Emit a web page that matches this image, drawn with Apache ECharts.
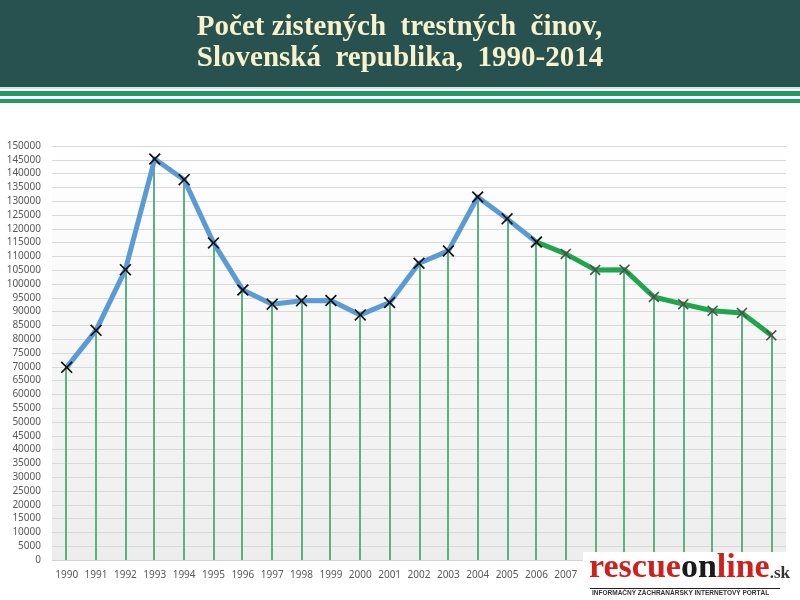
<!DOCTYPE html>
<html>
<head>
<meta charset="utf-8">
<script src="https://cdn.jsdelivr.net/npm/echarts@6/dist/echarts.min.js"></script>
<style>
  html, body { margin: 0; padding: 0; background: #fff; }
  #chart { width: 800px; height: 600px; }
</style>
</head>
<body>
<div id="chart"></div>
<script>
// roky a počty zistených trestných činov (odčítané z grafu)
var years = ['1990', '1991', '1992', '1993', '1994', '1995', '1996', '1997', '1998', '1999',
  '2000', '2001', '2002', '2003', '2004', '2005', '2006', '2007', '2008', '2009',
  '2010', '2011', '2012', '2013', '2014']
var counts = [69800, 83200, 105200, 145300, 137800, 114900, 97800, 92700, 93900, 94000,
  88800, 93300, 107500, 112000, 131500, 123600, 115200, 110900, 105100, 105200,
  95300, 92700, 90300, 89500, 81400]
var splitYear = '2006'
var titleLines = ['Počet zistených  trestných  činov,', 'Slovenská  republika,  1990-2014']

var splitIdx = years.indexOf(splitYear)
var blueData = counts.map(function (v, i) { return i <= splitIdx ? v : '-' })
var greenData = counts.map(function (v, i) { return i >= splitIdx ? v : '-' })

var crossPath = 'path://M0,1L1,0L5,4L9,0L10,1L6,5L10,9L9,10L5,6L1,10L0,9L4,5Z'

var myChart = echarts.init(document.getElementById('chart'))
var option = {
  backgroundColor: '#ffffff',
  animation: false,
  grid: {
    left: 52,
    right: 14,
    top: 146,
    bottom: 40,
    show: true,
    borderWidth: 0,
    backgroundColor: new echarts.graphic.LinearGradient(0, 0, 0, 1, [
      { offset: 0, color: '#ffffff' },
      { offset: 1, color: '#ededed' }
    ])
  },
  xAxis: {
    type: 'category',
    data: years,
    boundaryGap: true,
    axisTick: { show: false },
    axisLine: { lineStyle: { color: '#d4d4d4' } },
    axisLabel: { interval: 0, color: '#595959', fontSize: 10, fontFamily: 'Noto Sans', margin: 10 }
  },
  yAxis: {
    type: 'value',
    min: 0,
    max: 150000,
    interval: 5000,
    axisLine: { show: false },
    axisTick: { show: false },
    axisLabel: {
      color: '#595959', fontSize: 10, fontFamily: 'Noto Sans', margin: 11,
      formatter: function (v) { return String(v) }
    },
    splitLine: { lineStyle: { color: '#d9d9d9', width: 1 } }
  },
  series: [
    {
      // zvislé čiary od bodu k osi
      type: 'custom',
      data: counts.map(function (v, i) { return [i, v] }),
      renderItem: function (params, api) {
        var top = api.coord([api.value(0), api.value(1)])
        var bottom = api.coord([api.value(0), 0])
        var x = Math.round(top[0] / 2) * 2
        return {
          type: 'line',
          shape: { x1: x, y1: top[1], x2: x, y2: bottom[1] },
          style: { stroke: '#5ab283', lineWidth: 2 }
        }
      },
      z: 1
    },
    {
      type: 'line',
      data: greenData,
      lineStyle: { color: '#1fa64c', width: 5, join: 'round' },
      symbol: crossPath,
      symbolSize: 11,
      itemStyle: { color: '#4d4d4d' },
      z: 3
    },
    {
      type: 'line',
      data: blueData,
      lineStyle: { color: '#5b9bd5', width: 5, join: 'round' },
      symbol: crossPath,
      symbolSize: 12,
      itemStyle: { color: '#111111' },
      z: 4
    }
  ],
  graphic: [
    // hlavička
    { type: 'rect', left: 0, top: 0, shape: { width: 800, height: 87 }, style: { fill: '#27524f' }, z: 10 },
    { type: 'rect', left: 0, top: 87, shape: { width: 800, height: 2 }, style: { fill: '#cfe9dc' }, z: 10 },
    { type: 'rect', left: 0, top: 91, shape: { width: 800, height: 5 }, style: { fill: '#229a64' }, z: 10 },
    { type: 'rect', left: 0, top: 99, shape: { width: 800, height: 4 }, style: { fill: '#229a64' }, z: 10 },
    {
      type: 'text', left: 'center', top: 12, z: 11,
      style: {
        text: titleLines.join('\n'),
        fill: '#f7f1cc',
        font: 'bold 29px "Liberation Serif"',
        lineHeight: 31,
        align: 'center'
      }
    },
    // logo
    { type: 'rect', left: 583, top: 552, shape: { width: 217, height: 48 }, style: { fill: '#ffffff' }, z: 20 },
    {
      type: 'text', left: 589, top: 551, z: 21,
      style: {
        rich: {
          r: { fill: '#d0201e', font: 'bold 34px "Liberation Sans Narrow"' },
          k: { fill: '#1a1a1a', font: 'bold 34px "Liberation Sans Narrow"' },
          s: { fill: '#333333', font: 'bold 17px "Liberation Sans Narrow"', padding: [12, 0, 0, 0] }
        },
        text: '{r|rescue}{k|on}{r|line}{s|.sk}'
      }
    },
    { type: 'rect', left: 590, top: 588, shape: { width: 190, height: 1 }, style: { fill: '#222222' }, z: 21 },
    {
      type: 'text', left: 592, top: 590, z: 21,
      style: { text: 'INFORMAČNÝ ZÁCHRANÁRSKY INTERNETOVÝ PORTÁL', fill: '#333333', font: 'bold 6.5px "Liberation Sans"' }
    }
  ]
}
myChart.setOption(option)
</script>
</body>
</html>
